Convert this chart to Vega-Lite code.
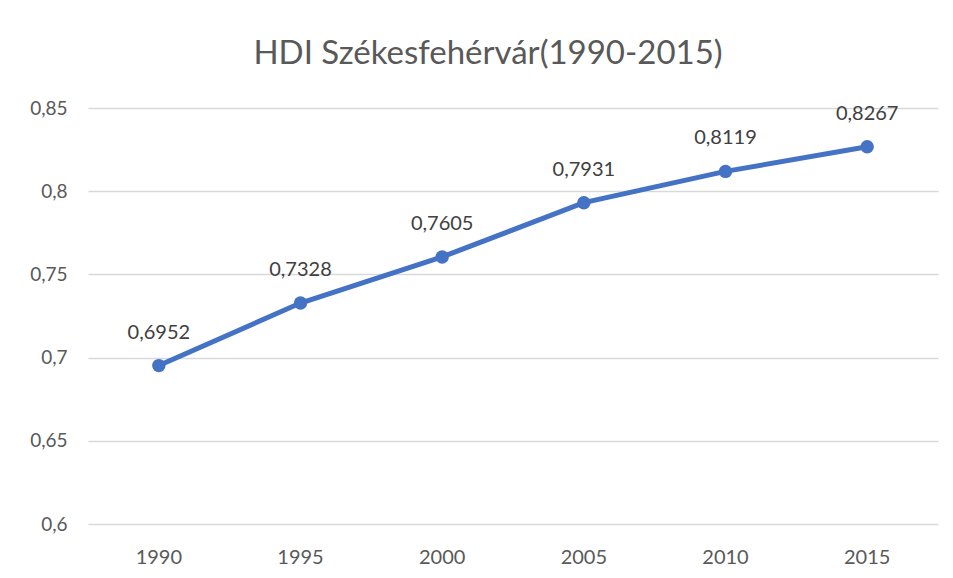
{
  "$schema": "https://vega.github.io/schema/vega-lite/v6.json",
  "autosize": "none",
  "width": 850,
  "height": 416,
  "padding": {"left": 88, "top": 108, "right": 15, "bottom": 54},
  "background": "white",
  "config": {
    "locale": {"number": {"decimal": ",", "thousands": " ", "grouping": [3], "currency": ["", " Ft"]}},
    "view": {"stroke": null},
    "font": "Lato"
  },
  "title": {
    "text": "HDI Székesfehérvár(1990-2015)",
    "fontSize": 33,
    "fontWeight": "normal",
    "color": "#595959",
    "anchor": "middle",
    "dx": -25,
    "offset": 28
  },
  "data": {
    "values": [
      {"year": "1990", "hdi": 0.6952},
      {"year": "1995", "hdi": 0.7328},
      {"year": "2000", "hdi": 0.7605},
      {"year": "2005", "hdi": 0.7931},
      {"year": "2010", "hdi": 0.8119},
      {"year": "2015", "hdi": 0.8267}
    ]
  },
  "encoding": {
    "x": {
      "field": "year",
      "type": "ordinal",
      "scale": {"type": "band", "paddingInner": 0, "paddingOuter": 0},
      "axis": {
        "title": null,
        "labelAngle": 0,
        "labelFontSize": 20,
        "labelColor": "#595959",
        "labelPadding": 23,
        "ticks": false,
        "domain": false,
        "grid": false
      }
    },
    "y": {
      "field": "hdi",
      "type": "quantitative",
      "scale": {"domain": [0.6, 0.85], "nice": false, "zero": false},
      "axis": {
        "title": null,
        "values": [0.6, 0.65, 0.7, 0.75, 0.8, 0.85],
        "format": "~g",
        "labelFontSize": 19,
        "labelColor": "#595959",
        "labelPadding": 21,
        "ticks": false,
        "domain": false,
        "gridColor": "#d9d9d9",
        "gridWidth": 1.5
      }
    }
  },
  "layer": [
    {
      "mark": {"type": "line", "color": "#4472C4", "strokeWidth": 5, "point": {"filled": true, "size": 180, "color": "#4472C4", "opacity": 1}}
    },
    {
      "mark": {"type": "text", "dy": -33, "fontSize": 20, "color": "#404040"},
      "encoding": {"text": {"field": "hdi", "type": "quantitative", "format": ".4f"}}
    }
  ]
}
